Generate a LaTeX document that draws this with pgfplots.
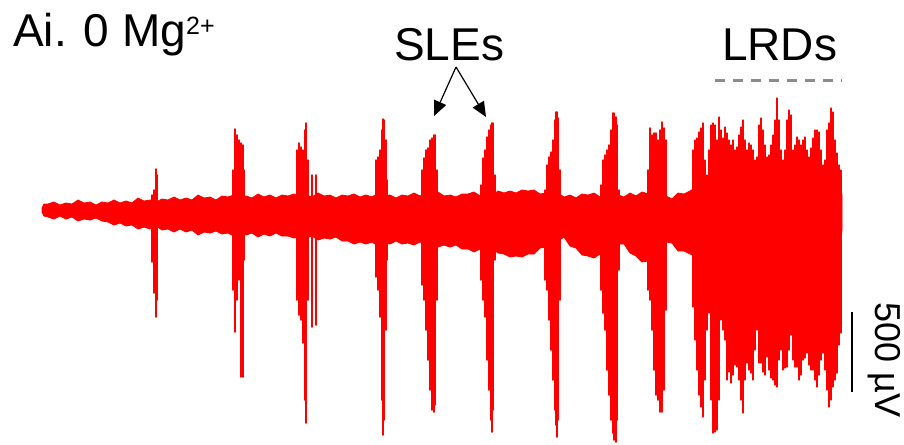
\documentclass[border=0pt]{standalone}
\usepackage{pgfplots}
\pgfplotsset{compat=1.18}
\usepackage{fontspec}
\setmainfont{Liberation Sans}
\usetikzlibrary{arrows.meta}
\definecolor{trace}{RGB}{255,0,0}
\definecolor{dgray}{RGB}{140,140,140}
\begin{document}
\begin{tikzpicture}
\path[use as bounding box] (0,0) rectangle (904pt,444pt);
\begin{axis}[scale only axis, width=904pt, height=444pt,
  xmin=0, xmax=904, ymin=0, ymax=444, y dir=reverse,
  hide axis, clip=false, unbounded coords=jump]
% baseline noise band (pixel units, y downwards)
\addplot[color=trace, fill=trace, draw=trace, line width=0.8pt, line join=round] coordinates {
(42,208)(44,204)(48,204)(54,202)(60,205)(66,203)(72,204)(78,200)(84,203)(90,202)(96,205)
(102,202)(108,203)(114,200)(120,203)(126,201)(132,203)(138,198)(144,201)(150,200)(156,202)
(162,199)(168,200)(174,197)(180,200)(186,198)(192,200)(198,195)(204,198)(210,197)(216,200)
(222,196)(228,197)(234,195)(240,198)(246,196)(252,198)(258,194)(264,197)(270,195)(276,198)
(282,195)(288,196)(294,194)(300,197)(306,195)(312,197)(318,193)(324,196)(330,195)(336,198)
(342,195)(348,196)(354,194)(360,197)(366,195)(372,197)(378,193)(384,196)(390,195)(396,198)
(402,195)(408,196)(414,193)(420,196)(426,194)(432,196)(438,192)(444,196)(450,195)(456,197)
(462,194)(468,194)(474,192)(480,196)(486,194)(492,196)(498,191)(504,193)(510,191)(516,193)
(522,190)(528,191)(534,190)(540,194)(546,193)(552,196)(558,193)(564,197)(570,195)(576,198)
(582,194)(588,195)(594,193)(600,197)(606,196)(612,198)(618,195)(624,197)(630,193)(636,196)
(642,192)(648,194)(654,193)(660,197)(666,196)(672,199)(678,193)(684,194)(690,191)(695,188)
(700,188)(840,188)(842,195)
(842,230)(840,248)(700,250)(695,256)(690,254)(684,251)(678,251)(672,243)(666,242)(660,249)
(654,260)(648,261)(642,262)(636,256)(630,253)(624,244)(618,244)(612,247)(606,253)(600,254)
(594,258)(588,256)(582,255)(576,248)(570,246)(564,237)(558,241)(552,241)(546,247)(540,248)
(534,254)(528,254)(522,257)(516,256)(510,257)(504,254)(498,253)(492,248)(486,251)(480,249)
(474,252)(468,249)(462,249)(456,245)(450,247)(444,245)(438,247)(432,242)(426,244)(420,242)
(414,245)(408,243)(402,244)(396,241)(390,244)(384,243)(378,246)(372,242)(366,244)(360,242)
(354,244)(348,241)(342,241)(336,237)(330,239)(324,238)(318,240)(312,236)(306,238)(300,236)
(294,238)(288,236)(282,236)(276,233)(270,236)(264,234)(258,237)(252,233)(246,235)(240,233)
(234,236)(228,233)(222,234)(216,231)(210,233)(204,232)(198,235)(192,230)(186,232)(180,229)
(174,232)(168,229)(162,230)(156,226)(150,229)(144,227)(138,229)(132,225)(126,226)(120,223)
(114,225)(108,222)(102,221)(96,218)(90,220)(84,219)(78,221)(72,217)(66,219)(60,216)
(54,219)(48,217)(44,216)(42,212)
} -- cycle;
% SLE discharges
\addplot[color=trace, draw=trace, line width=1.5pt, line cap=round] coordinates {
(152,195)(152,262)(152,nan)(154,190)(154,293)(154,nan)(156,169)(156,317)(156,nan)(157,175)(157,300)(157,nan)
(233,170)(233,290)(233,nan)(235,129)(235,332)(235,nan)(237,135)(237,300)(237,nan)(239,140)(239,280)(239,nan)
(241,143)(241,377)(241,nan)(243,145)(243,377)(243,nan)(244,170)(244,260)(244,nan)
(297,150)(297,300)(297,nan)(299,143)(299,315)(299,nan)(301,147)(301,320)(301,nan)(303,150)(303,343)(303,nan)
(305,130)(305,400)(305,nan)(306,123)(306,423)(306,nan)(308,160)(308,300)(308,nan)(312,175)(312,327)(312,nan)
(316,175)(316,325)(316,nan)
(376,160)(376,277)(376,nan)(378,157)(378,290)(378,nan)(380,150)(380,317)(380,nan)(382,130)(382,400)(382,nan)
(383,119)(383,435)(383,nan)(384,120)(384,420)(384,nan)(386,140)(386,330)(386,nan)(387,180)(387,260)(387,nan)
(422,170)(422,285)(422,nan)(424,158)(424,300)(424,nan)(426,150)(426,330)(426,nan)(428,148)(428,360)(428,nan)
(430,140)(430,390)(430,nan)(432,138)(432,410)(432,nan)(434,135)(434,412)(434,nan)(435,135)(435,405)(435,nan)
(437,170)(437,300)(437,nan)
(481,185)(481,280)(481,nan)(483,158)(483,300)(483,nan)(485,150)(485,317)(485,nan)(487,137)(487,360)(487,nan)
(489,130)(489,390)(489,nan)(491,125)(491,420)(491,nan)(492,123)(492,432)(492,nan)(493,123)(493,410)(493,nan)
(495,175)(495,260)(495,nan)
(545,190)(545,280)(545,nan)(547,165)(547,290)(547,nan)(549,157)(549,320)(549,nan)(551,152)(551,350)(551,nan)
(553,140)(553,380)(553,nan)(555,120)(555,410)(555,nan)(556,112)(556,425)(556,nan)(557,112)(557,437)(557,nan)
(558,118)(558,420)(558,nan)(560,170)(560,300)(560,nan)
(601,185)(601,290)(601,nan)(603,160)(603,313)(603,nan)(605,155)(605,330)(605,nan)(607,150)(607,370)(607,nan)
(609,145)(609,395)(609,nan)(611,130)(611,420)(611,nan)(613,113)(613,433)(613,nan)(614,113)(614,440)(614,nan)
(616,117)(616,442)(616,nan)(617,125)(617,420)(617,nan)(619,190)(619,270)(619,nan)
(648,170)(648,290)(648,nan)(650,128)(650,300)(650,nan)(652,135)(652,330)(652,nan)(654,133)(654,370)(654,nan)
(656,133)(656,395)(656,nan)(658,140)(658,400)(658,nan)(660,130)(660,412)(660,nan)(662,122)(662,412)(662,nan)
(664,128)(664,390)(664,nan)(666,140)(666,310)(666,nan)
};
% LRDs
\addplot[color=trace, draw=trace, line width=1.1pt, line cap=round] coordinates {
(693,150)(693,307)(693,nan)(695,140)(695,340)(695,nan)(697,138)(697,370)(697,nan)(699,132)(699,395)(699,nan)
(701,128)(701,407)(701,nan)(703,123)(703,417)(703,nan)(705,160)(705,380)(705,nan)(707,175)(707,330)(707,nan)
(709,150)(709,313)(709,nan)(711,125)(711,400)(711,nan)(713,123)(713,433)(713,nan)(715,125)(715,432)(715,nan)
(717,140)(717,430)(717,nan)(719,117)(719,400)(719,nan)(721,130)(721,320)(721,nan)(723,138)(723,330)(723,nan)
(725,127)(725,340)(725,nan)(727,133)(727,380)(727,nan)(729,140)(729,372)(729,nan)(731,145)(731,383)(731,nan)
(733,140)(733,375)(733,nan)(735,150)(735,365)(735,nan)(737,147)(737,367)(737,nan)(739,135)(739,380)(739,nan)
(741,127)(741,400)(741,nan)(743,120)(743,413)(743,nan)(745,140)(745,380)(745,nan)(747,150)(747,363)(747,nan)
(749,143)(749,370)(749,nan)(751,145)(751,373)(751,nan)(753,150)(753,380)(753,nan)(755,160)(755,350)(755,nan)
(757,157)(757,330)(757,nan)(759,125)(759,363)(759,nan)(761,118)(761,363)(761,nan)(763,130)(763,372)(763,nan)
(765,145)(765,375)(765,nan)(767,157)(767,357)(767,nan)(769,155)(769,370)(769,nan)(771,145)(771,378)(771,nan)
(773,135)(773,380)(773,nan)(775,120)(775,385)(775,nan)(777,98)(777,387)(777,nan)(779,120)(779,360)(779,nan)
(781,150)(781,350)(781,nan)(783,160)(783,370)(783,nan)(785,150)(785,368)(785,nan)(787,120)(787,367)(787,nan)
(789,110)(789,350)(789,nan)(791,115)(791,335)(791,nan)(793,150)(793,360)(793,nan)(795,145)(795,367)(795,nan)
(797,137)(797,367)(797,nan)(799,140)(799,380)(799,nan)(801,145)(801,375)(801,nan)(803,140)(803,360)(803,nan)
(805,137)(805,358)(805,nan)(807,150)(807,353)(807,nan)(809,157)(809,365)(809,nan)(811,148)(811,370)(811,nan)
(813,138)(813,370)(813,nan)(815,130)(815,380)(815,nan)(817,130)(817,387)(817,nan)(819,132)(819,375)(819,nan)
(821,150)(821,360)(821,nan)(823,165)(823,353)(823,nan)(825,160)(825,370)(825,nan)(827,130)(827,390)(827,nan)
(829,123)(829,407)(829,nan)(831,108)(831,400)(831,nan)(833,112)(833,387)(833,nan)(835,140)(835,380)(835,nan)
(837,153)(837,373)(837,nan)(839,165)(839,345)(839,nan)(841,170)(841,333)
};
% annotations
\node[anchor=base west, inner sep=0pt, font=\fontsize{46}{50}\selectfont] at (axis cs:13,47)
  {Ai. 0 Mg\raisebox{13pt}{\fontsize{25}{27}\selectfont 2+}};
\node[anchor=base west, inner sep=0pt, font=\fontsize{46}{50}\selectfont] at (axis cs:394,60) {SLEs};
\node[anchor=base west, inner sep=0pt, font=\fontsize{46}{50}\selectfont] at (axis cs:722,60) {LRDs};
\draw[line width=1.2pt, -{Triangle[length=15pt,width=13pt]}] (axis cs:456,67) -- (axis cs:434,116);
\draw[line width=1.2pt, -{Triangle[length=15pt,width=13pt]}] (axis cs:456,67) -- (axis cs:486,117);
\draw[dgray, line width=3pt, dash pattern=on 10pt off 8pt] (axis cs:715,80) -- (axis cs:842,80);
\draw[black, line width=2.5pt] (axis cs:852,312) -- (axis cs:852,392);
\node[rotate=-90, inner sep=0pt, font=\fontsize{36}{40}\selectfont] at (axis cs:884,360) {500 µV};
\end{axis}
\end{tikzpicture}
\end{document}
